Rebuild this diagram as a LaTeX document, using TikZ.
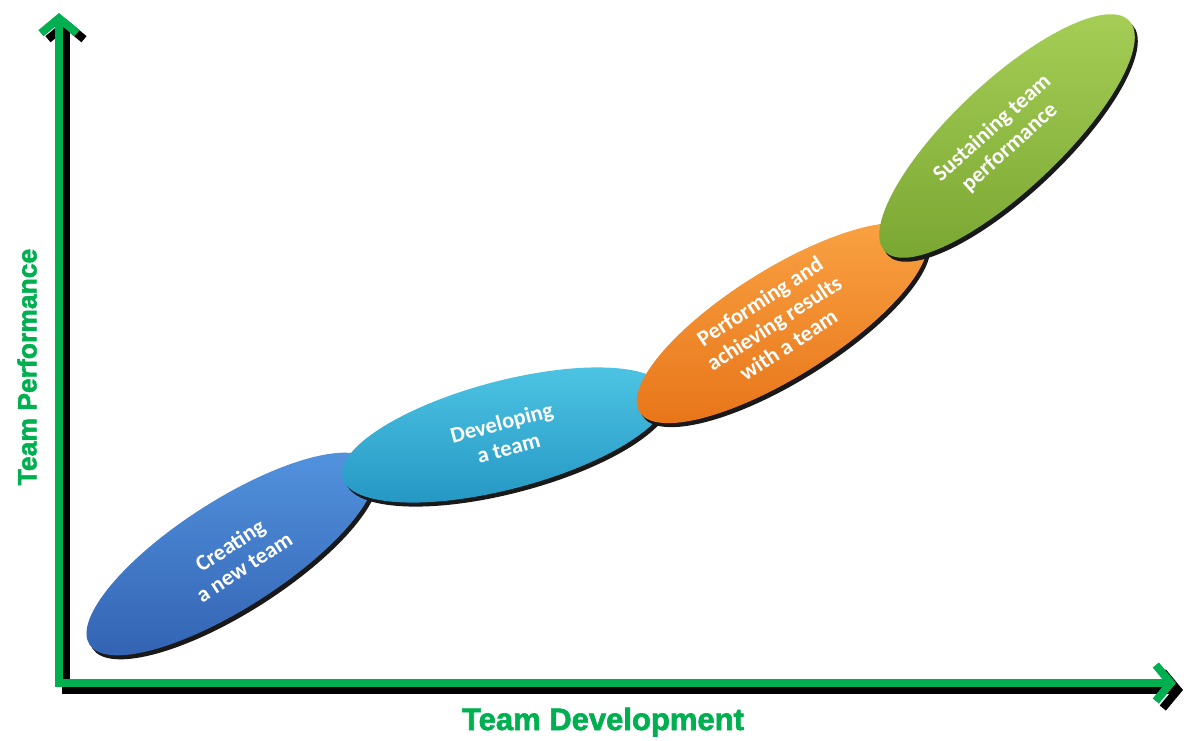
\documentclass[tikz,border=0pt]{standalone}
\usepackage{fontspec}
\newfontfamily\ellfont{Carlito}
\newfontfamily\axfont[BoldFeatures={FakeBold=2}]{Liberation Sans}
\usetikzlibrary{arrows.meta,shapes.geometric}
\definecolor{axgreen}{HTML}{00B050}
\definecolor{blueT}{HTML}{5495E0}
\definecolor{blueB}{HTML}{3465B5}
\definecolor{cyanT}{HTML}{4FC6E5}
\definecolor{cyanB}{HTML}{2395C2}
\definecolor{oranT}{HTML}{FAA445}
\definecolor{oranB}{HTML}{E8771A}
\definecolor{grnT}{HTML}{A8D058}
\definecolor{grnB}{HTML}{7BA833}
\begin{document}
\begin{tikzpicture}[x=1pt,y=-1pt,
  stage/.style={ellipse, minimum width=336pt, minimum height=108pt, inner sep=0pt, draw=none},
  shadowell/.style={ellipse, minimum width=336pt, minimum height=108pt, inner sep=0pt, fill=black!90},
  lab/.style={text=white, font=\ellfont\bfseries\fontsize{22.5}{26}\selectfont, align=center},
  axlab/.style={text=axgreen, font=\axfont\bfseries},
  axis/.style={line width=8pt, draw=axgreen, -{Straight Barb[length=15pt,width=36pt]}},
  axshadow/.style={line width=8pt, draw=black, -{Straight Barb[length=15pt,width=36pt]}}]
\useasboundingbox (0,0) rectangle (1188,740);
\fill[white] (0,0) rectangle (1188,740);

% axes
\coordinate (o) at (59,683);
\coordinate (ob) at (59,687);
\coordinate (ol) at (55,683);
\coordinate (ytop) at (59,13);
\coordinate (xend) at (1176,683);
\draw[axshadow] ([shift={(7,6)}]ob) -- ([shift={(7,6)}]ytop);
\draw[axshadow] ([shift={(7,7)}]ol) -- ([shift={(7,7)}]xend);
\draw[axis] (ob) -- (ytop);
\draw[axis] (ol) -- (xend);

\node[axlab, font=\axfont\bfseries\fontsize{31}{32}\selectfont] (xl) at (603,722) {Team Development};
\node[axlab, font=\axfont\bfseries\fontsize{26.5}{27}\selectfont, rotate=90] (yl) at (27,367) {Team Performance};

% stage 1
\node[shadowell, rotate=32.6] (s1) at (234,558) {};
\node[stage, rotate=32.6, top color=blueT, bottom color=blueB] (e1) at (231,554) {};
\node[lab, rotate=33] (t1) at ([shift={(6,2)}]e1) {Creating\\a new team};

% stage 2
\node[shadowell, rotate=14.8] (s2) at (508,439) {};
\node[stage, rotate=14.8, top color=cyanT, bottom color=cyanB] (e2) at (505,435) {};
\node[lab, rotate=15] (t2) at (e2) {Developing\\a team};

% stage 3
\node[shadowell, rotate=32] (s3) at (785,327) {};
\node[stage, rotate=32, top color=oranT, bottom color=oranB] (e3) at (782,323) {};
\node[lab, rotate=33] (t3) at ([shift={(-8,0)}]e3) {Performing and\\achieving results\\with a team};

% stage 4
\node[shadowell, rotate=43.3] (s4) at (1010,140) {};
\node[stage, rotate=43.3, top color=grnT, bottom color=grnB] (e4) at (1007,136) {};
\node[lab, rotate=42] (t4) at ([shift={(-6,2)}]e4) {Sustaining team\\performance};
\end{tikzpicture}
\end{document}
